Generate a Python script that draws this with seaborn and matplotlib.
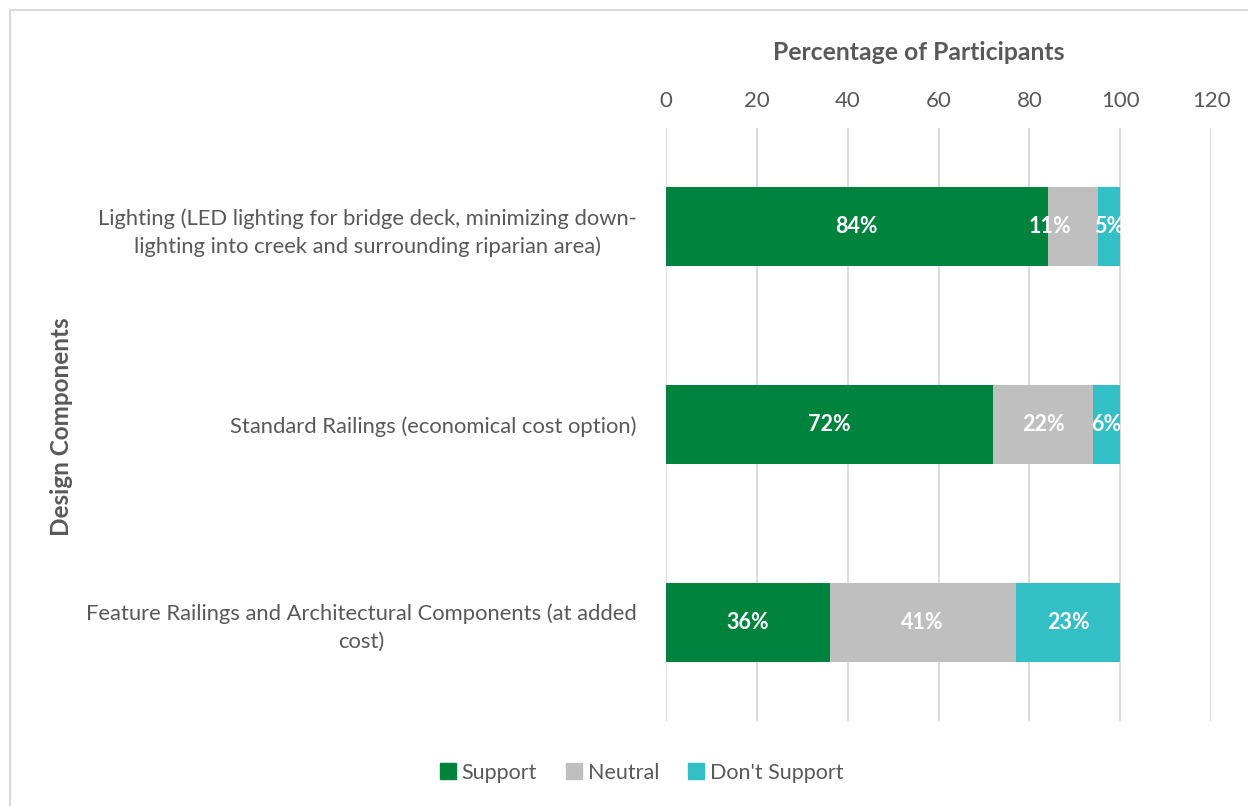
import matplotlib
matplotlib.use("Agg")
import matplotlib.pyplot as plt
from matplotlib.patches import Rectangle
from matplotlib.lines import Line2D
import numpy as np
import pandas as pd
import seaborn as sns

categories = [
    "Lighting (LED lighting for bridge deck, minimizing down-\nlighting into creek and surrounding riparian area)",
    "Standard Railings (economical cost option)",
    "Feature Railings and Architectural Components (at added\ncost)",
]
series_names = ["Support", "Neutral", "Don't Support"]
support = [84, 72, 36]
neutral = [11, 22, 41]
dont_support = [5, 6, 23]
x_ticks = [0, 20, 40, 60, 80, 100, 120]

colors = {"Support": "#00843D", "Neutral": "#BFBFBF", "Don't Support": "#33BFC6"}
text_color = "#595959"

sns.set_theme(style="white")
plt.rcParams["font.family"] = ["Lato", "DejaVu Sans"]

values = {"Support": support, "Neutral": neutral, "Don't Support": dont_support}
stack = np.vstack([values[s] for s in series_names])
cum = np.cumsum(stack, axis=0)

fig = plt.figure(figsize=(12.48, 8.06), dpi=100)
ax = fig.add_axes([0.5337, 0.1055, 0.9704 - 0.5337, 0.8412 - 0.1055])

# stacked bars: draw cumulative totals from the top segment down
for i in range(len(series_names) - 1, -1, -1):
    df = pd.DataFrame({"cat": categories, "val": cum[i]})
    sns.barplot(data=df, x="val", y="cat", orient="h", color=colors[series_names[i]],
                width=0.4, saturation=1, ax=ax, zorder=3, linewidth=0)

# segment labels; a label followed by a very narrow segment is nudged left
for i, name in enumerate(series_names):
    for j in range(len(categories)):
        start = cum[i][j] - stack[i][j]
        xc = start + stack[i][j] / 2
        if i + 1 < len(series_names) and stack[i + 1][j] < 6 and stack[i][j] < 15:
            xc -= 5
        ax.text(xc, j, f"{stack[i][j]}%", ha="center", va="center",
                color="white", fontsize=15.5, fontweight="bold", zorder=4)

ax.set_xlim(0, 120)
ax.set_ylim(2.5, -0.5)
ax.set_xticks(x_ticks)
ax.xaxis.tick_top()
ax.xaxis.set_label_position("top")
ax.tick_params(axis="x", length=0, labelsize=16, labelcolor=text_color, pad=12)
ax.tick_params(axis="y", length=0, labelsize=15.8, labelcolor=text_color, pad=21)
for lab in ax.get_yticklabels():
    lab.set_multialignment("center")
    lab.set_linespacing(1.45)
ax.grid(axis="x", color="#D9D9D9", linewidth=1.3, zorder=0)
ax.grid(axis="y", visible=False)
for sp in ax.spines.values():
    sp.set_visible(False)

ax.set_xlabel("Percentage of Participants", fontsize=17.8, fontweight="bold",
              color=text_color)
ax.xaxis.set_label_coords(0.4645, 1.0 + 68 / 593)
ax.set_ylabel("")
fig.text(62 / 1248, 1 - 427 / 806, "Design Components", rotation=90, ha="center", va="center",
         fontsize=17.5, fontweight="bold", color=text_color)

handles = [Line2D([0], [0], marker="s", linestyle="none", markersize=12,
                  markerfacecolor=colors[s], markeredgecolor=colors[s]) for s in series_names]
fig.legend(handles, series_names, loc="center", bbox_to_anchor=(639 / 1248, 1 - 773 / 806),
           ncol=3, frameon=False, fontsize=15.5, handletextpad=0.05, handlelength=1.2,
           columnspacing=1.1, labelcolor=text_color)

# outer chart frame
fig.patches.append(Rectangle((10 / 1248, -0.1), 1.2, 1 - 10 / 806 + 0.1,
                             transform=fig.transFigure, fill=False,
                             edgecolor="#D9D9D9", linewidth=1.5))

fig.savefig("out.png", dpi=100)
